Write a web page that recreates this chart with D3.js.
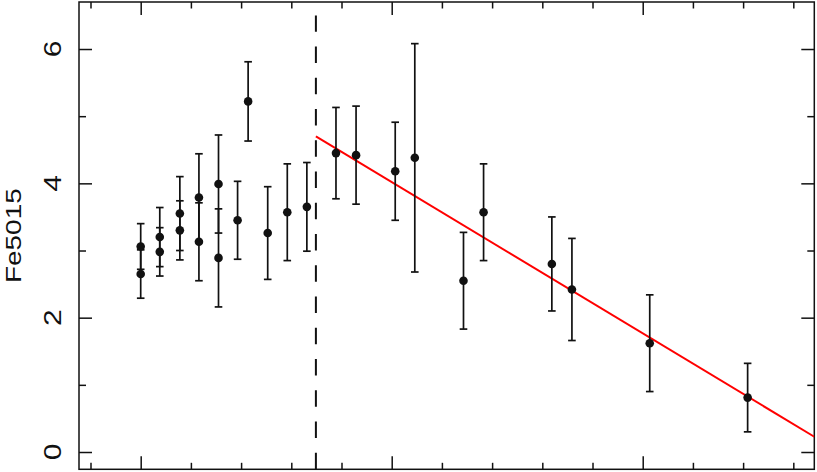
<!DOCTYPE html>
<html>
<head>
<meta charset="utf-8">
<script src="https://cdn.jsdelivr.net/npm/d3@7"></script>
<style>
  html, body { margin: 0; padding: 0; background: #fff; }
  svg { display: block; }
  text { font-family: "Liberation Sans", Arial, Helvetica, sans-serif; fill: #111; }
</style>
</head>
<body>
<svg id="chart" width="817" height="472"></svg>
<script>
// ---- data ----
const xVals = [0, 0, 0.038, 0.038, 0.078, 0.078, 0.116, 0.116, 0.155, 0.155, 0.193, 0.214, 0.253, 0.292, 0.331, 0.389, 0.429, 0.507, 0.546, 0.643, 0.683, 0.819, 0.859, 1.014, 1.209];
const yVals = [3.06, 2.65, 3.20, 2.98, 3.55, 3.30, 3.79, 3.13, 3.99, 2.89, 3.45, 5.22, 3.26, 3.57, 3.65, 4.45, 4.42, 4.18, 4.38, 2.55, 3.57, 2.80, 2.42, 1.62, 0.81];
const yErrs = [0.34, 0.36, 0.44, 0.36, 0.55, 0.44, 0.65, 0.58, 0.73, 0.73, 0.58, 0.59, 0.69, 0.72, 0.66, 0.68, 0.73, 0.73, 1.70, 0.72, 0.72, 0.70, 0.76, 0.72, 0.51];
const xBreak = 0.349;
const fitIntercept = 6.272;
const fitSlope = -4.505;
const yMajorTicks = [0, 2, 4, 6];
const yMinorTicks = [1, 3, 5];
const xMajorTicks = [0, 0.5, 1.0];
const xMinorTicks = [-0.1, 0.1, 0.2, 0.3, 0.4, 0.6, 0.7, 0.8, 0.9, 1.1, 1.2, 1.3];
const yLabel = "Fe5015";

// ---- layout ----
const svg = d3.select("#chart");
const L = 79, R = 814.3, T = 2, B = 469.3;
const x = d3.scaleLinear().domain([-0.1229, 1.3418]).range([L, R]);
const y = d3.scaleLinear().domain([-0.2575, 6.7]).range([B, T]);
const ink = "#111";

svg.append("defs").append("clipPath").attr("id", "clip")
  .append("rect").attr("x", L).attr("y", T).attr("width", R - L).attr("height", B - T);

// axes ticks (inward) on all four sides
function styleAxis(g) {
  g.select(".domain").remove();
  g.selectAll(".tick line").attr("stroke", ink).attr("stroke-width", 1.5);
}
svg.append("g").attr("transform", `translate(0,${B})`)
  .call(d3.axisBottom(x).tickValues(xMajorTicks).tickSize(-13).tickFormat("")).call(styleAxis);
svg.append("g").attr("transform", `translate(0,${B})`)
  .call(d3.axisBottom(x).tickValues(xMinorTicks).tickSize(-6.5).tickFormat("")).call(styleAxis);
svg.append("g").attr("transform", `translate(0,${T})`)
  .call(d3.axisTop(x).tickValues(xMajorTicks).tickSize(-13).tickFormat("")).call(styleAxis);
svg.append("g").attr("transform", `translate(0,${T})`)
  .call(d3.axisTop(x).tickValues(xMinorTicks).tickSize(-6.5).tickFormat("")).call(styleAxis);
svg.append("g").attr("transform", `translate(${L},0)`)
  .call(d3.axisLeft(y).tickValues(yMajorTicks).tickSize(-13).tickFormat("")).call(styleAxis);
svg.append("g").attr("transform", `translate(${L},0)`)
  .call(d3.axisLeft(y).tickValues(yMinorTicks).tickSize(-7).tickFormat("")).call(styleAxis);
svg.append("g").attr("transform", `translate(${R},0)`)
  .call(d3.axisRight(y).tickValues(yMajorTicks).tickSize(-13).tickFormat("")).call(styleAxis);
svg.append("g").attr("transform", `translate(${R},0)`)
  .call(d3.axisRight(y).tickValues(yMinorTicks).tickSize(-7).tickFormat("")).call(styleAxis);

// frame
svg.append("rect").attr("x", L).attr("y", T).attr("width", R - L).attr("height", B - T)
  .attr("fill", "none").attr("stroke", ink).attr("stroke-width", 1.5);

// y tick labels (rotated)
svg.append("g").selectAll("text").data(yMajorTicks).join("text")
  .attr("transform", d => `translate(61,${y(d)}) rotate(-90) scale(1.25,1)`)
  .attr("text-anchor", "middle")
  .attr("font-size", 24)
  .text(d => d);

// y axis title
svg.append("text")
  .attr("transform", `translate(20.5,${(T + B) / 2}) rotate(-90) scale(1.27,1)`)
  .attr("text-anchor", "middle")
  .attr("font-size", 22)
  .text(yLabel);

// dashed vertical line
svg.append("line")
  .attr("x1", x(xBreak)).attr("x2", x(xBreak))
  .attr("y1", y(-0.2575)).attr("y2", y(6.5))
  .attr("stroke", ink).attr("stroke-width", 2)
  .attr("stroke-dasharray", "16.5,14.75");

// fit line
const fitG = svg.append("g").attr("clip-path", "url(#clip)");
const fitX = [xBreak, 1.3418];
fitG.append("line")
  .attr("x1", x(fitX[0])).attr("y1", y(fitIntercept + fitSlope * fitX[0]))
  .attr("x2", x(fitX[1])).attr("y2", y(fitIntercept + fitSlope * fitX[1]))
  .attr("stroke", "#ff0000").attr("stroke-width", 2);

// error bars + points
const pts = xVals.map((v, i) => ({ x: v, y: yVals[i], e: yErrs[i] }));
const eb = svg.append("g").attr("stroke", ink).attr("stroke-width", 1.7);
eb.selectAll("line.v").data(pts).join("line").attr("class", "v")
  .attr("x1", d => x(d.x)).attr("x2", d => x(d.x))
  .attr("y1", d => y(d.y - d.e)).attr("y2", d => y(d.y + d.e));
eb.selectAll("line.t").data(pts).join("line").attr("class", "t")
  .attr("x1", d => x(d.x) - 3.8).attr("x2", d => x(d.x) + 3.8)
  .attr("y1", d => y(d.y + d.e)).attr("y2", d => y(d.y + d.e));
eb.selectAll("line.b").data(pts).join("line").attr("class", "b")
  .attr("x1", d => x(d.x) - 3.8).attr("x2", d => x(d.x) + 3.8)
  .attr("y1", d => y(d.y - d.e)).attr("y2", d => y(d.y - d.e));
svg.append("g").selectAll("circle").data(pts).join("circle")
  .attr("cx", d => x(d.x)).attr("cy", d => y(d.y)).attr("r", 4.3)
  .attr("fill", ink);
</script>
</body>
</html>
